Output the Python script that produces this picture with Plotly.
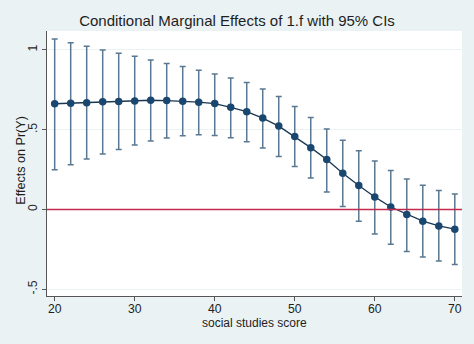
import plotly.graph_objects as go

# ---- data ----
social_studies_score = [20, 22, 24, 26, 28, 30, 32, 34, 36, 38, 40, 42, 44,
                        46, 48, 50, 52, 54, 56, 58, 60, 62, 64, 66, 68, 70]
effect = [0.663, 0.666, 0.670, 0.675, 0.677, 0.681, 0.685, 0.683, 0.679, 0.673,
          0.664, 0.641, 0.613, 0.573, 0.523, 0.458, 0.388, 0.313, 0.227, 0.150,
          0.079, 0.016, -0.031, -0.073, -0.103, -0.123]
ci_upper = [1.069, 1.046, 1.023, 1.000, 0.979, 0.960, 0.938, 0.916, 0.896, 0.873,
            0.850, 0.825, 0.796, 0.756, 0.708, 0.646, 0.577, 0.504, 0.435, 0.369,
            0.304, 0.244, 0.191, 0.152, 0.119, 0.098]
ci_lower = [0.250, 0.281, 0.316, 0.348, 0.377, 0.404, 0.429, 0.448, 0.463, 0.469,
            0.464, 0.450, 0.425, 0.385, 0.333, 0.270, 0.198, 0.110, 0.019, -0.073,
            -0.153, -0.217, -0.263, -0.298, -0.323, -0.344]
ref_line_y = 0
y_tickvals = [-0.5, 0, 0.5, 1]
y_ticktext = ["-.5", "0", ".5", "1"]
x_tickvals = [20, 30, 40, 50, 60, 70]
x_ticktext = ["20", "30", "40", "50", "60", "70"]

title_text = "Conditional Marginal Effects of 1.f with 95% CIs"
x_title = "social studies score"
y_title = "Effects on Pr(Y)"

# ---- styles ----
BG = "#EAF2F3"
NAVY = "#1A476F"
CI_COLOR = "#5A7891"
REF_COLOR = "#C42A4E"
AXIS_COLOR = "#555555"
TEXT = "#1E1E1E"
FONT = "Liberation Sans, Arial, Helvetica, sans-serif"

err_plus = [u - e for u, e in zip(ci_upper, effect)]
err_minus = [e - l for e, l in zip(effect, ci_lower)]

fig = go.Figure()

# confidence intervals (capped spikes)
fig.add_trace(go.Scatter(
    x=social_studies_score, y=effect, mode="markers",
    marker=dict(size=7, color=NAVY, opacity=0),
    error_y=dict(type="data", symmetric=False, array=err_plus, arrayminus=err_minus,
                 color=CI_COLOR, thickness=1.5, width=3),
    hoverinfo="skip", showlegend=False,
))

# point estimates
fig.add_trace(go.Scatter(
    x=social_studies_score, y=effect, mode="lines+markers",
    line=dict(color="#1A3650", width=1.3),
    marker=dict(size=7.5, color=NAVY),
    showlegend=False,
))

# reference line at zero
fig.add_shape(type="line", xref="paper", x0=0, x1=1, yref="y",
              y0=ref_line_y, y1=ref_line_y,
              line=dict(color=REF_COLOR, width=1.4), layer="above")

fig.add_annotation(text=x_title, xref="paper", yref="paper", x=0.5, y=-0.1008,
                   xanchor="center", yanchor="middle", showarrow=False,
                   font=dict(size=12, color=TEXT))
fig.add_annotation(text=y_title, xref="paper", yref="paper", x=-0.0634, y=0.513,
                   xanchor="center", yanchor="middle", showarrow=False, textangle=-90,
                   font=dict(size=12.6, color=TEXT))

fig.update_layout(
    width=474, height=344,
    margin=dict(l=47, r=12, t=31, b=48),
    paper_bgcolor=BG, plot_bgcolor="white",
    font=dict(family=FONT, size=12, color=TEXT),
    title=dict(text=title_text, x=0.5, xanchor="center", xref="container",
               y=1 - 21 / 344, yref="container", yanchor="middle",
               font=dict(size=15, color=TEXT)),
    showlegend=False,
)

fig.update_xaxes(
    range=[19.04, 70.9], tickvals=x_tickvals, ticktext=x_ticktext,
    showgrid=False, zeroline=False,
    showline=True, linecolor=AXIS_COLOR, linewidth=1,
    ticks="outside", ticklen=4, tickcolor=AXIS_COLOR, tickwidth=1,
    ticklabelstandoff=-3,
    tickfont=dict(size=12.2),
)

fig.update_yaxes(
    range=[-0.542, 1.119], tickvals=y_tickvals, ticktext=y_ticktext,
    tickangle=-90,
    showgrid=True, gridcolor=BG, gridwidth=1, zeroline=False,
    showline=True, linecolor=AXIS_COLOR, linewidth=1,
    ticks="outside", ticklen=4, tickcolor=AXIS_COLOR, tickwidth=1,
    tickfont=dict(size=12.2),
)

fig.write_html("out.html")
